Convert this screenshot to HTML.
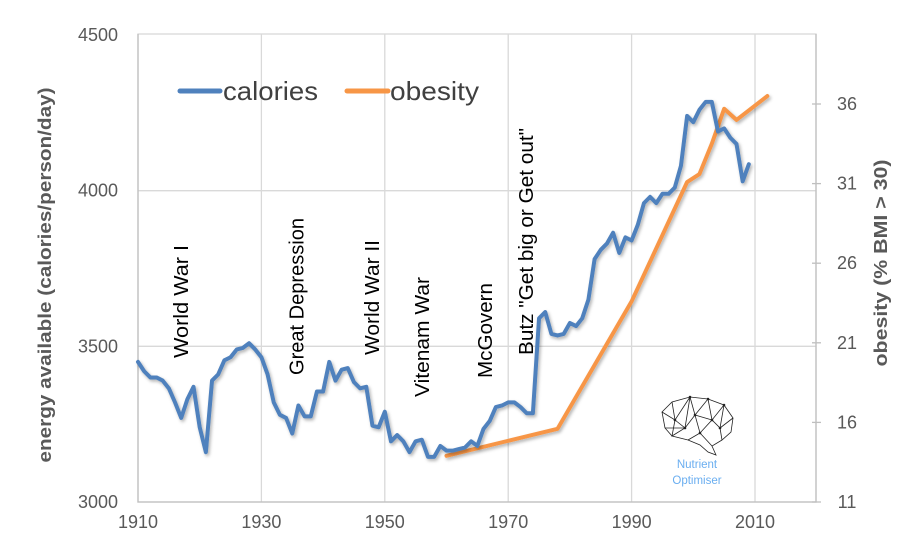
<!DOCTYPE html>
<html><head><meta charset="utf-8"><style>
body{margin:0;background:#fff;}
svg{display:block;font-family:"Liberation Sans",sans-serif;}
</style></head><body>
<svg id="chart" width="923" height="560" viewBox="0 0 923 560" xmlns="http://www.w3.org/2000/svg">
<defs><filter id="sh" x="-5%" y="-5%" width="110%" height="115%"><feDropShadow dx="1.5" dy="2" stdDeviation="1.5" flood-color="#000" flood-opacity="0.3"/></filter></defs>
<g id="grid"></g>
<g id="axes"></g>
<g id="annots"></g>
<g id="series"></g>
<g>
 <g><line x1="180" y1="91" x2="220" y2="91" stroke="#4f81bd" stroke-width="5" stroke-linecap="round"/><text x="223" y="100" font-size="26" fill="#404040" textLength="95" lengthAdjust="spacingAndGlyphs">calories</text></g>
 <g><line x1="347" y1="91" x2="388" y2="91" stroke="#f79646" stroke-width="5" stroke-linecap="round"/><text x="390" y="100" font-size="26" fill="#404040" textLength="89" lengthAdjust="spacingAndGlyphs">obesity</text></g>
</g>
<g stroke="#222" stroke-width="0.8" fill="none">
 <path d="M665,428 L662,412 L672,402 L690,397 L708,399 L724,405 L733,418 L731,432 L722,440 L712,446 L716,455 L708,452 L700,445 L688,440 L672,436 Z"/>
 <path d="M662,412 L675,420 L690,397 L695,415 L708,399 L712,420 L724,405 L720,428 L733,418 M675,420 L672,436 L685,428 L675,420 M685,428 L695,415 L700,433 L712,420 L720,428 L722,440 M700,433 L688,440 M700,433 L712,446 M685,428 L690,397 M712,420 L708,399 M665,428 L685,428 M695,415 L712,420 M672,402 L675,420"/>
 <g fill="#222" stroke="none"><circle cx="675" cy="420" r="1.3"/><circle cx="695" cy="415" r="1.3"/><circle cx="712" cy="420" r="1.3"/><circle cx="685" cy="428" r="1.3"/><circle cx="700" cy="433" r="1.3"/><circle cx="720" cy="428" r="1.3"/><circle cx="690" cy="397" r="1.3"/><circle cx="708" cy="399" r="1.3"/><circle cx="724" cy="405" r="1.3"/></g>
</g>
<text x="697" y="468" font-size="11.5" fill="#6aaef0" text-anchor="middle">Nutrient</text>
<text x="697" y="484" font-size="11.5" fill="#6aaef0" text-anchor="middle">Optimiser</text>
</svg>
<script>
const years=[1910,1911,1912,1913,1914,1915,1916,1917,1918,1919,1920,1921,1922,1923,1924,1925,1926,1927,1928,1929,1930,1931,1932,1933,1934,1935,1936,1937,1938,1939,1940,1941,1942,1943,1944,1945,1946,1947,1948,1949,1950,1951,1952,1953,1954,1955,1956,1957,1958,1959,1960,1961,1962,1963,1964,1965,1966,1967,1968,1969,1970,1971,1972,1973,1974,1975,1976,1977,1978,1979,1980,1981,1982,1983,1984,1985,1986,1987,1988,1989,1990,1991,1992,1993,1994,1995,1996,1997,1998,1999,2000,2001,2002,2003,2004,2005,2006,2007,2008,2009];
const calories=[3450,3420,3400,3400,3390,3365,3320,3270,3330,3370,3240,3160,3390,3410,3455,3465,3490,3495,3510,3490,3465,3410,3320,3280,3270,3220,3310,3275,3275,3355,3355,3450,3390,3425,3430,3385,3365,3370,3245,3240,3290,3195,3215,3195,3160,3195,3200,3145,3145,3180,3165,3165,3170,3175,3195,3180,3235,3260,3305,3310,3320,3320,3305,3285,3285,3590,3610,3540,3535,3540,3575,3565,3590,3650,3780,3810,3830,3865,3800,3850,3840,3890,3960,3980,3960,3990,3990,4010,4080,4240,4220,4260,4285,4285,4190,4200,4170,4150,4030,4085];
const obYears=[1960,1978,1990,1999,2001,2003,2005,2007,2012];
const obesity=[13.9,15.6,23.6,31.1,31.6,33.5,35.7,35,36.5];
const xTicks=[1910,1930,1950,1970,1990,2010];
const yTicks=[3000,3500,4000,4500];
const y2Ticks=[11,16,21,26,31,36];
const annotYears=[1917,1935.7,1947.9,1956,1966.2,1972.9];
const annotLabels=["World War I","Great Depression","World War II","Vitenam War","McGovern","Butz \"Get big or Get out\""];
const annotBottoms=[358,375,355,397,378,355];
const annotLens=[113,157,115,120,95,227];

const X=y=>138+(y-1910)*(617/100);
const Y=v=>502-(v-3000)*(467/1500);
const Y2=v=>502-(v-11)*(398/25);
const NS="http://www.w3.org/2000/svg";
function mk(p,t,a){const e=document.createElementNS(NS,t);for(const k in a)e.setAttribute(k,a[k]);p.appendChild(e);return e;}
const grid=document.getElementById('grid'),axes=document.getElementById('axes'),ser=document.getElementById('series'),an=document.getElementById('annots');
let r=mk(grid,'rect',{x:138,y:34,width:678,height:468,fill:'none',stroke:'#d9d9d9','stroke-width':1.3});


xTicks.forEach(t=>{
 if(t>1910){const l=mk(grid,'line',{x1:X(t),y1:34,x2:X(t),y2:502,stroke:'#d9d9d9','stroke-width':1.3});
 
 }
 const tx=mk(axes,'text',{x:X(t),y:528,'font-size':18,fill:'#595959','text-anchor':'middle'});tx.textContent=t;
 
 
});
yTicks.forEach(t=>{
 if(t>3000&&t<4500){const l=mk(grid,'line',{x1:138,y1:Y(t),x2:816,y2:Y(t),stroke:'#d9d9d9','stroke-width':1.3});
 
 }
 const tx=mk(axes,'text',{x:118,y:Y(t)+6,'font-size':18,fill:'#595959','text-anchor':'end'});tx.textContent=t;
 
 });
let ax=mk(axes,'path',{d:'M138,34 V502 H816 V34',fill:'none',stroke:'#bfbfbf','stroke-width':1.3});


y2Ticks.forEach(t=>{const tx=mk(axes,'text',{x:847,y:Y2(t)+6,'font-size':18,fill:'#595959','text-anchor':'middle'});tx.textContent=t;
 
 
 const l=mk(axes,'line',{x1:812,y1:Y2(t),x2:821,y2:Y2(t),stroke:'#bfbfbf','stroke-width':1.3});
 
 });
let yt=mk(axes,'text',{transform:'translate(51,275) rotate(-90)','font-size':18,'font-weight':'bold',fill:'#595959','text-anchor':'middle',textLength:375,lengthAdjust:'spacingAndGlyphs'});yt.textContent='energy available (calories/person/day)';


let yt2=mk(axes,'text',{transform:'translate(887,263) rotate(-90)','font-size':18,'font-weight':'bold',fill:'#595959','text-anchor':'middle',textLength:207,lengthAdjust:'spacingAndGlyphs'});yt2.textContent='obesity (% BMI > 30)';


annotYears.forEach((y,i)=>{const tx=mk(an,'text',{transform:`translate(${X(y)+7},${annotBottoms[i]}) rotate(-90)`,'font-size':20,fill:'#000','text-anchor':'start',textLength:annotLens[i],lengthAdjust:'spacingAndGlyphs'});tx.textContent=annotLabels[i];
 
 });
const ob=mk(ser,'polyline',{points:obYears.map((y,i)=>X(y)+','+Y2(obesity[i])).join(' '),fill:'none',stroke:'#f79646','stroke-width':4,'stroke-linejoin':'round','stroke-linecap':'round',filter:'url(#sh)'});


const cl=mk(ser,'polyline',{points:years.map((y,i)=>X(y)+','+Y(calories[i])).join(' '),fill:'none',stroke:'#4f81bd','stroke-width':4,'stroke-linejoin':'round','stroke-linecap':'round',filter:'url(#sh)'});


</script>
</body></html>
